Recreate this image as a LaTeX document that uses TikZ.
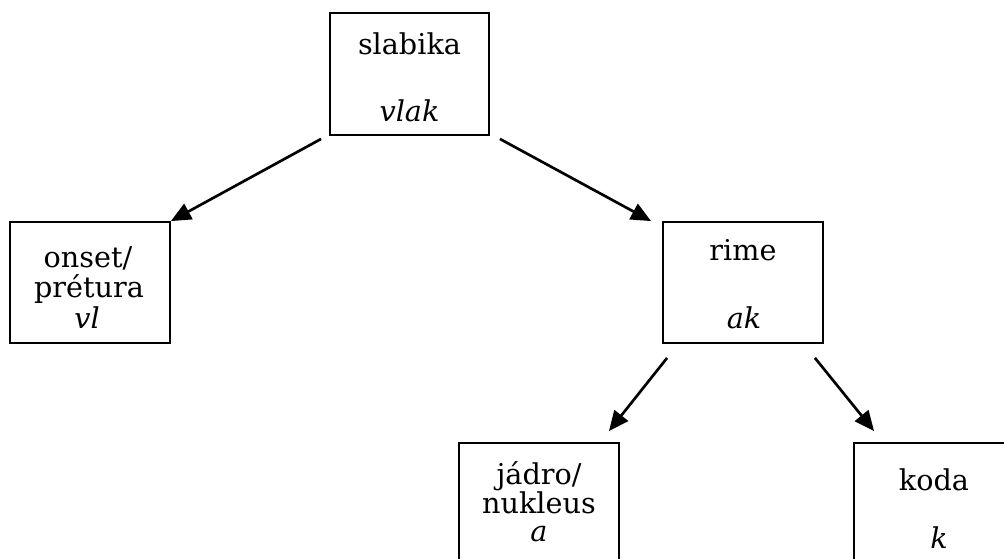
\documentclass[tikz,border=0pt]{standalone}
\usepackage{fontspec}
\setmainfont{DejaVu Serif}
\usetikzlibrary{arrows.meta,calc}
\tikzset{
  box/.style={draw, line width=1.4pt, inner sep=0pt, minimum width=160*0.75pt},
  lbl/.style={anchor=base, inner sep=0pt, font=\fontsize{21.5}{24}\selectfont},
  arr/.style={line width=2pt, -{Triangle[length=15pt,width=13pt]}}
}
\begin{document}
\begin{tikzpicture}[x=0.75pt,y=-0.75pt]
\useasboundingbox (0,0) rectangle (1004,558);
% boxes
\node[box, minimum width=159*0.75pt, minimum height=122*0.75pt] (syl) at (409.5,74) {};
\node[box, minimum height=121*0.75pt] (onset) at (90,282.5) {};
\node[box, minimum height=121*0.75pt] (rime) at (743,282.5) {};
\node[box, minimum height=130*0.75pt] (nuc) at (539,508) {};
\node[box, minimum width=180*0.75pt, minimum height=130*0.75pt] (coda) at (944,508) {};
% labels
\node[lbl] (sylA) at (409.5,54) {slabika};
\node[lbl] (sylB) at (409.5,121) {\itshape vlak};
\node[lbl] (onA) at (88,267) {onset/};
\node[lbl] (onB) at (89,297) {prétura};
\node[lbl] (onC) at (87,328) {\itshape vl};
\node[lbl] (riA) at (743,260) {rime};
\node[lbl] (riB) at (744,328) {\itshape ak};
\node[lbl] (nuA) at (539,484) {jádro/};
\node[lbl] (nuB) at (539,513) {nukleus};
\node[lbl] (nuC) at (539,541) {\itshape a};
\node[lbl] (coA) at (934,490) {koda};
\node[lbl] (coB) at (939,548) {\itshape k};
% connectors
\draw[arr] ($(syl.south west)+(-8,3)$) -- (onset.north east);
\draw[arr] ($(syl.south east)+(10,3)$) -- ($(rime.north west)+(-11,0)$);
\draw[arr] ($(rime.south west)+(5,14)$) -- ($(nuc.north east)+(-11,-11)$);
\draw[arr] ($(rime.south east)+(-9,14)$) -- ($(coda.north west)+(21,-11)$);
\end{tikzpicture}
\end{document}
